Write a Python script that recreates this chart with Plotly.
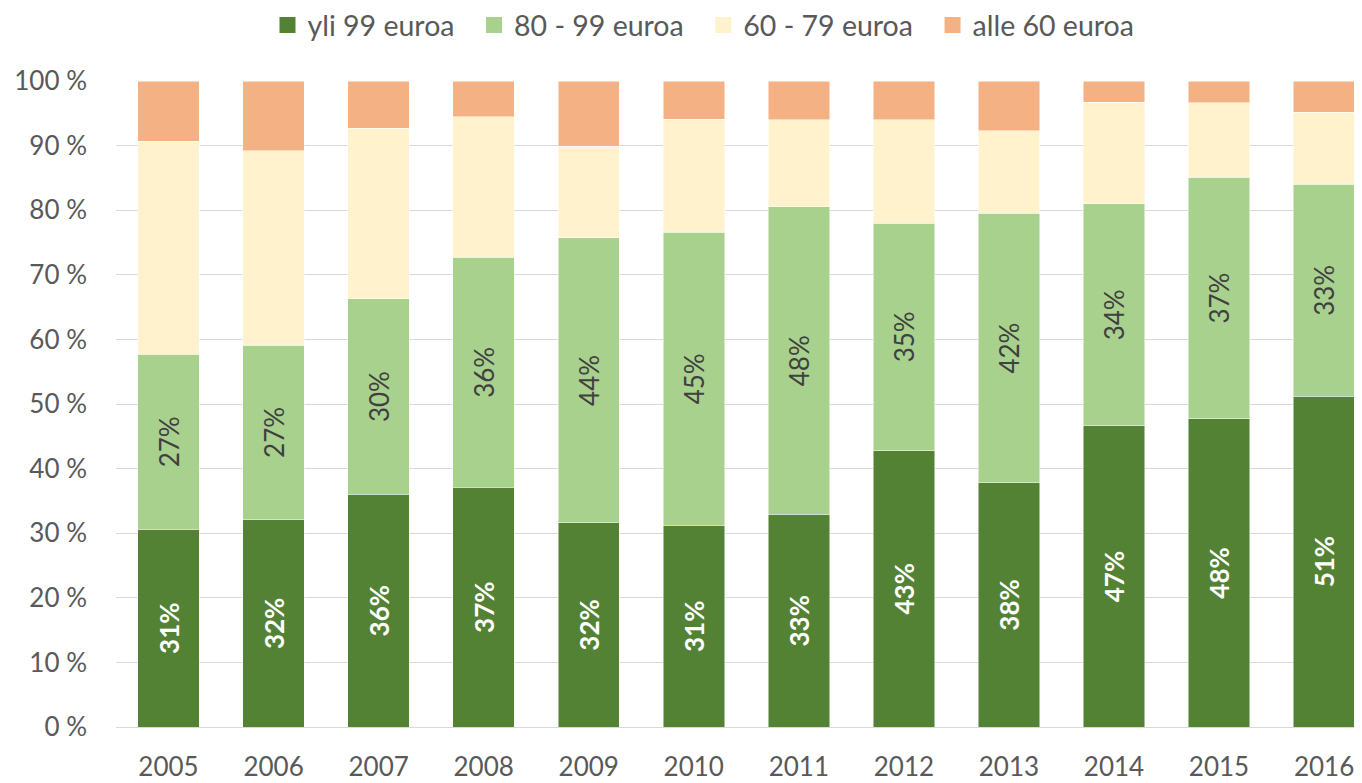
import plotly.graph_objects as go

years = ["2005", "2006", "2007", "2008", "2009", "2010", "2011", "2012", "2013", "2014", "2015", "2016"]
series_names = ["yli 99 euroa", "80 - 99 euroa", "60 - 79 euroa", "alle 60 euroa"]
yli_99 = [30.6, 32.1, 36.0, 37.1, 31.6, 31.2, 32.9, 42.8, 37.8, 46.6, 47.7, 51.2]
e80_99 = [27.1, 27.0, 30.3, 35.6, 44.1, 45.4, 47.6, 35.2, 41.7, 34.4, 37.4, 32.8]
e60_79 = [33.0, 30.1, 26.4, 21.8, 14.2, 17.5, 13.5, 16.0, 12.8, 15.7, 11.5, 11.2]
alle_60 = [9.3, 10.8, 7.3, 5.5, 10.1, 5.9, 6.0, 6.0, 7.7, 3.3, 3.4, 4.8]
y_ticks = [0, 10, 20, 30, 40, 50, 60, 70, 80, 90, 100]

colors = ["#548235", "#A9D18E", "#FFF2CC", "#F4B183"]
FONT = "Lato"
pad = "\u00a0" * 2

fig = go.Figure()
data = [yli_99, e80_99, e60_79, alle_60]
for i, (name, vals) in enumerate(zip(series_names, data)):
    kw = {}
    if i == 0:
        kw = dict(texttemplate="<b>%{y:.0f}%</b>", textposition="inside",
                  insidetextanchor="middle", textangle=-90,
                  textfont=dict(family=FONT, size=26, color="white"))
    elif i == 1:
        kw = dict(texttemplate="%{y:.0f}%", textposition="inside",
                  insidetextanchor="middle", textangle=-90,
                  textfont=dict(family=FONT, size=26, color="#404040"))
    else:
        kw = dict(textposition="none")
    fig.add_trace(go.Bar(
        x=years, y=vals, name=name,
        marker=dict(color=colors[i], line=dict(width=0.7, color="rgba(255,255,255,0.7)")),
        width=0.585, hoverinfo="skip", showlegend=False, **kw))
    # legend-only entry with a larger square swatch
    fig.add_trace(go.Scatter(
        x=[None], y=[None], mode="markers", name=name + (pad if i < 3 else ""),
        marker=dict(symbol="square", size=16, color=colors[i]),
        showlegend=True, hoverinfo="skip"))

fig.update_layout(
    barmode="stack",
    width=1354, height=775,
    paper_bgcolor="white", plot_bgcolor="white",
    margin=dict(l=108, r=0, t=73, b=56, autoexpand=False),
    font=dict(family=FONT, color="#595959", size=26),
    legend=dict(orientation="h", x=0.4715, xanchor="center", y=1.086, yanchor="middle",
                font=dict(family=FONT, size=28.5, color="#595959"), traceorder="normal",
                itemwidth=30, itemsizing="trace"),
    showlegend=True,
)
fig.update_xaxes(type="category", range=[-0.5, 11.361], showgrid=False,
                 showline=False, ticks="", ticklabelstandoff=22, automargin=False,
                 tickfont=dict(family=FONT, size=26, color="#595959"))
fig.update_yaxes(range=[0, 100], tickvals=y_ticks, ticktext=[f"{v} %" for v in y_ticks],
                 showgrid=True, gridcolor="#d9d9d9", gridwidth=1.3,
                 zeroline=True, zerolinecolor="#d9d9d9", zerolinewidth=1.3,
                 showline=False, ticks="", ticklabelstandoff=28, automargin=False,
                 tickfont=dict(family=FONT, size=26, color="#595959"))

fig.write_html("out.html")
